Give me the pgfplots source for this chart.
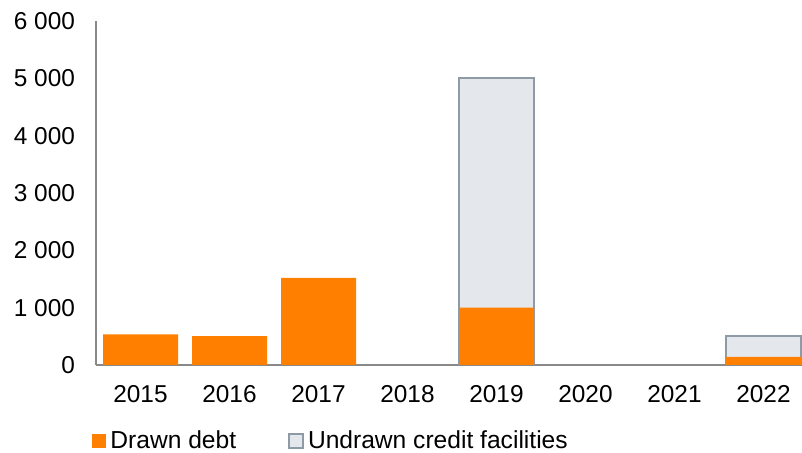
\documentclass[border=0pt]{standalone}
\usepackage{pgfplots}
\pgfplotsset{compat=1.18}
\usepackage{fontspec}
\setmainfont{Liberation Sans}
\definecolor{drawn}{HTML}{FF8000}
\definecolor{undrawnfill}{HTML}{E4E8EC}
\definecolor{undrawnedge}{HTML}{8E9BA7}
\definecolor{axisgray}{HTML}{898989}
\begin{document}
\begin{tikzpicture}
\path[use as bounding box] (-48pt,-44pt) rectangle (353pt,182.5pt);
\begin{axis}[
  at={(0,0)}, anchor=south west,
  scale only axis, width=356pt, height=172pt,
  xmin=-0.5, xmax=7.5, ymin=0, ymax=6000,
  axis lines*=left,
  axis line style={axisgray, line width=0.9pt},
  major tick length=0pt,
  xtick={0,...,7},
  xticklabels={2015,2016,2017,2018,2019,2020,2021,2022},
  ytick={0,1000,2000,3000,4000,5000,6000},
  yticklabels={0,1 000,2 000,3 000,4 000,5 000,6 000},
  tick label style={font=\fontsize{12.2}{14}\selectfont},
  xticklabel style={yshift=-6.5pt},
  yticklabel style={xshift=-7pt},
  ybar, bar width=37.5pt, bar shift=0pt,
  legend style={at={(0,0)}, anchor=west, xshift=-5pt, yshift=-38pt,
    draw=none, fill=none, font=\fontsize{12.3}{14}\selectfont,
    legend columns=2, /tikz/every even column/.append style={column sep=24pt},
    legend cell align=left},
  legend image code/.code={\path[#1] (0pt,-3.5pt) rectangle (7pt,3.5pt);},
]
% undrawn totals (drawn + undrawn), overlaid by drawn
\addplot[forget plot, fill=undrawnfill, draw=undrawnedge, line width=0.9pt]
  coordinates {(4,5000) (7,500)};
\addplot[forget plot, fill=drawn, draw=none]
  coordinates {(0,535) (1,505) (2,1520) (4,1000) (7,140)};
\addlegendimage{fill=drawn, draw=none}
\addlegendentry{Drawn debt}
\addlegendimage{fill=undrawnfill, draw=undrawnedge, line width=0.9pt}
\addlegendentry{Undrawn credit facilities}
\end{axis}
\end{tikzpicture}
\end{document}
